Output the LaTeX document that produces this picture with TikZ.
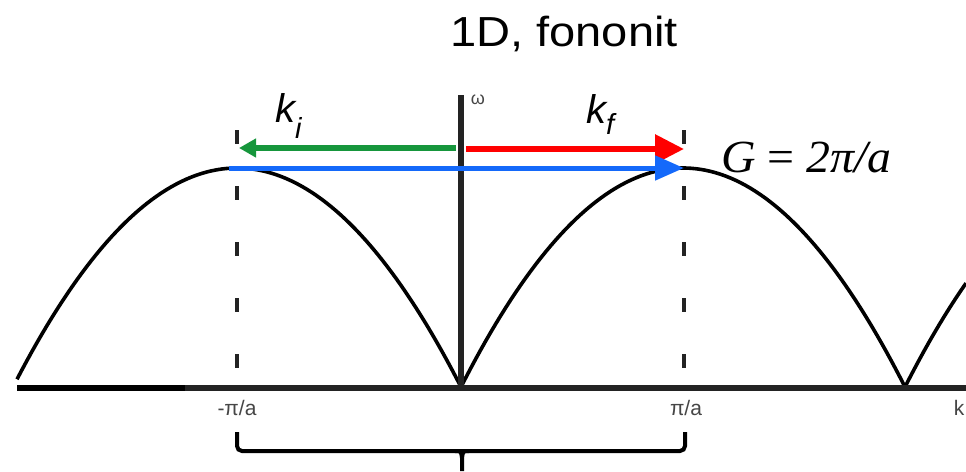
\documentclass[tikz,border=0pt]{standalone}
\usepackage{fontspec}
\setmainfont{Liberation Sans}
\newfontfamily\titlefont[FakeStretch=1.12]{Liberation Sans}
\newfontfamily\serifit[FakeStretch=1.04]{Liberation Serif}
\usetikzlibrary{arrows.meta}
\definecolor{kgreen}{RGB}{22,150,60}
\definecolor{kred}{RGB}{255,0,0}
\definecolor{kblue}{RGB}{20,105,250}
\definecolor{axisgray}{RGB}{35,35,35}
\definecolor{lblgray}{RGB}{70,70,70}
\tikzset{
  curve/.style={line width=3.6pt, black},
  dashline/.style={line width=3.6pt, axisgray, dash pattern=on 14pt off 42pt},
  ticklbl/.style={font=\fontsize{21}{21}\selectfont, text=lblgray, inner sep=0pt, anchor=base},
  klbl/.style={font=\fontsize{40}{40}\selectfont\itshape, inner sep=0pt, anchor=base west},
}
\begin{document}
\begin{tikzpicture}[x=1pt,y=-1pt]
\useasboundingbox (0,0) rectangle (966,471);
% dashed zone boundaries
\draw[dashline] (237,130) -- (237,372);
\draw[dashline] (684,130) -- (684,372);
% dispersion arches
\draw[curve] plot[domain=17:461, samples=90] (\x, {168+219*((\x-237)/224)^2});
\draw[curve] plot[domain=461:905, samples=90] (\x, {168+219*((\x-683)/222)^2});
\draw[curve] plot[domain=905:966, samples=30] (\x, {168+219*((\x-1127)/222)^2});
% axes
\coordinate (kl) at (17,388);
\coordinate (km) at (185,388);
\coordinate (kr) at (966,388);
\draw[line width=6pt, black] (kl) -- (km);
\draw[line width=6pt, axisgray] (km) -- (kr);
\coordinate (w0) at (461,388);
\coordinate (w1) at (461,95);
\draw[line width=6pt, axisgray] (w0) -- (w1);
\node[font=\fontsize{18}{18}\selectfont, text=lblgray, inner sep=0pt] (omega) at (478,100) {ω};
% arrows
\coordinate (gi0) at (456,148);
\coordinate (gi1) at (239,148);
\draw[kgreen, line width=6pt, -{Triangle[length=17pt,width=18pt]}] (gi0) -- (gi1);
\coordinate (rf0) at (466,149);
\coordinate (rf1) at (684,149);
\draw[kred, line width=6pt, -{Triangle[length=29pt,width=28pt]}] (rf0) -- (rf1);
\coordinate (b0) at (229,168);
\coordinate (b1) at (684,168);
\draw[kblue, line width=5pt, -{Triangle[length=29pt,width=24pt]}] (b0) -- (b1);
% labels
\node[font=\titlefont\fontsize{42}{42}\selectfont, inner sep=0pt, anchor=base] (title) at (564,46) {1D, fononit};
\node[klbl] (ki) at (275,122) {k\raisebox{-16pt}{\fontsize{29}{29}\selectfont i}};
\node[klbl] (kf) at (586,123) {k\raisebox{-11pt}{\fontsize{29}{29}\selectfont f}};
\node[font=\serifit\fontsize{46}{46}\selectfont, inner sep=0pt, anchor=base west] (G) at (721,172) {\textit{G} = \textit{2π/a}};
\node[ticklbl] (lm) at (237,415) {-π/a};
\node[ticklbl] (lp) at (686,415) {π/a};
\node[ticklbl] (lk) at (959,415) {k};
% brace
\coordinate (br0) at (237,432);
\coordinate (br1) at (685,432);
\coordinate (brm) at (462,471);
\draw[line width=4pt, black, rounded corners=5pt] (br0) -- (237,451) -- (685,451) -- (br1);
\draw[line width=4pt, black] (455,451) .. controls (461,451) .. (462,458) -- (brm);
\draw[line width=4pt, black] (469,451) .. controls (463,451) .. (462,458);
\end{tikzpicture}
\end{document}
